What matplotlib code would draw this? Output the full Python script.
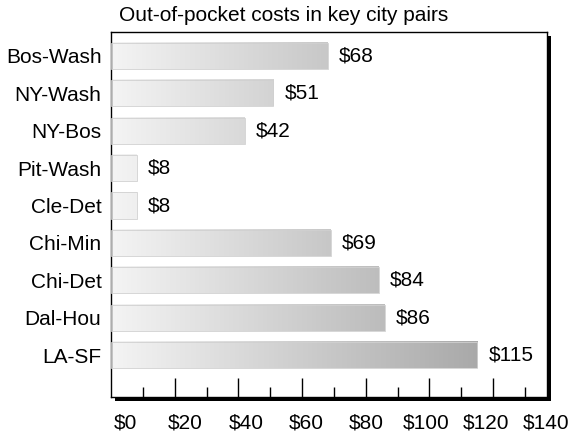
import numpy as np
import matplotlib.pyplot as plt
from matplotlib.colors import LinearSegmentedColormap
from matplotlib.patches import Rectangle

plt.rcParams['font.family'] = ['Liberation Sans', 'DejaVu Sans']

# City pairs and out-of-pocket costs (dollars)
pairs = ['Bos-Wash', 'NY-Wash', 'NY-Bos', 'Pit-Wash', 'Cle-Det',
         'Chi-Min', 'Chi-Det', 'Dal-Hou', 'LA-SF']
costs = [68, 51, 42, 8, 8, 69, 84, 86, 115]
tick_values = [0, 20, 40, 60, 80, 100, 120, 140]
tick_labels = ['$0', '$20', '$40', '$60', '$80', '$100', '$120', '$140']

fig = plt.figure(figsize=(5.76, 4.32), dpi=100)
ax = fig.add_axes([0.193, 0.081, 0.757, 0.845])

# drop shadow behind the plot box
shadow = Rectangle((0.193 + 0.007, 0.081 - 0.009), 0.757, 0.845,
                   transform=fig.transFigure, facecolor='black',
                   edgecolor='none', zorder=0)
fig.patches.append(shadow)
ax.set_zorder(1)
ax.set_facecolor('white')

cmap = LinearSegmentedColormap.from_list('shade', ['#f4f4f4', '#a6a6a6'])
h = 0.7
grad = np.linspace(0, 1, 256).reshape(1, -1)
for i, v in enumerate(costs):
    ax.imshow(grad * v, extent=(0, v, i + h / 2, i - h / 2), cmap=cmap,
              vmin=0, vmax=120, aspect='auto', interpolation='bilinear',
              zorder=2)
    ax.add_patch(Rectangle((0, i - h / 2), v, h, facecolor='none',
                           edgecolor='#d0d0d0', linewidth=0.6, zorder=3))
    ax.text(v + 3.5, i, f'${v}', va='center', ha='left', fontsize=15)

ax.set_xlim(0, 137)
ax.set_ylim(len(pairs) - 1 + 1.12, -0.64)

ax.set_yticks(range(len(pairs)))
ax.set_yticklabels(pairs, fontsize=15)
ax.tick_params(axis='y', length=0, pad=7)

ax.set_xticks([t for t in tick_values if t <= 137][1:])
ax.set_xticks(np.arange(10, 137, 20), minor=True)
ax.tick_params(axis='x', which='major', direction='in', length=14,
               width=1, labelbottom=False)
ax.tick_params(axis='x', which='minor', direction='in', length=7, width=1)
for t, lab in zip(tick_values, tick_labels):
    ax.text(t * 0.945 + 4.5, -0.045, lab, transform=ax.get_xaxis_transform(),
            ha='center', va='top', fontsize=15)

for s in ax.spines.values():
    s.set_linewidth(1.0)

fig.text(0.207, 0.965, 'Out-of-pocket costs in key city pairs',
         fontsize=15, ha='left', va='center')

fig.savefig('out.png', dpi=100)
